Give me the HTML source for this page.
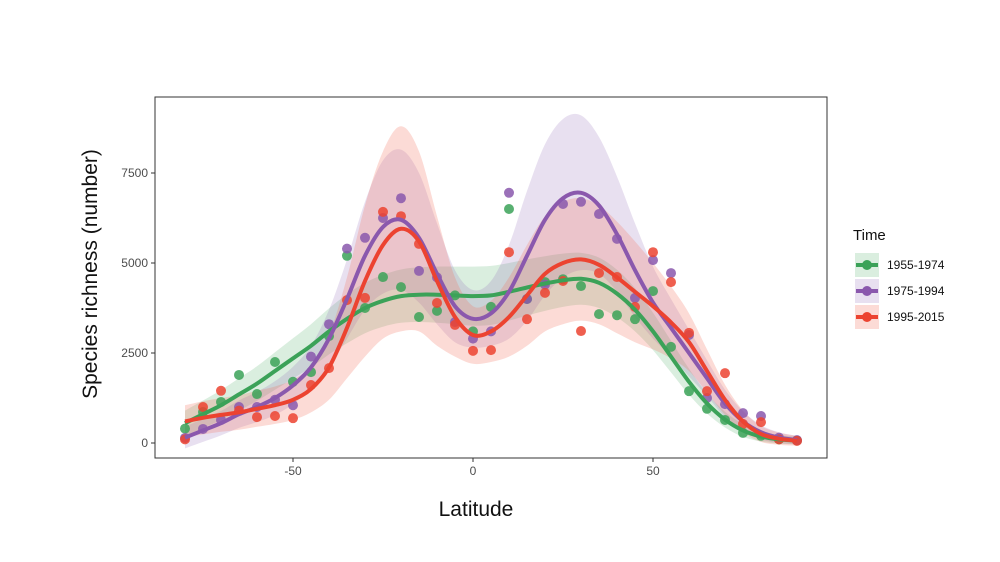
<!DOCTYPE html>
<html><head><meta charset="utf-8"><style>
body{margin:0;background:#fff;}
svg{display:block;font-family:"Liberation Sans",sans-serif;}
</style></head><body>
<svg id="chart" width="1000" height="562"></svg>
<script>
const lats=[-80,-75,-70,-65,-60,-55,-50,-45,-40,-35,-30,-25,-20,-15,-10,-5,0,5,10,15,20,25,30,35,40,45,50,55,60,65,70,75,80,85,90];
const greenPts=[400,860,1140,1890,1360,2250,1700,1970,2970,5200,3750,4610,4330,3500,3670,4100,3100,3780,6500,4000,4470,4550,4360,3580,3550,3440,4220,2670,1440,950,640,280,200,100,70];
const purplePts=[140,390,640,1000,1000,1200,1050,2400,3300,5400,5700,6250,6800,4780,4600,3360,2900,3100,6950,4000,4400,6640,6700,6360,5670,4030,5080,4720,3000,1250,1080,830,750,150,80];
const redPts=[100,1000,1450,900,720,750,690,1610,2080,3970,4030,6420,6300,5530,3890,3280,2560,2580,5300,3440,4170,4500,3110,4720,4610,3780,5300,4470,3060,1440,1940,530,580,100,60];
const greenFit=[550,800,1050,1350,1650,2000,2350,2700,3100,3450,3750,3950,4080,4120,4120,4100,4080,4100,4200,4320,4430,4520,4560,4450,4150,3700,3100,2400,1700,1100,650,350,180,100,70];
const purpleFit=[150,350,550,800,1000,1250,1600,2100,2900,4000,5200,6000,6200,5700,4700,3800,3450,3600,4200,5200,6200,6800,6950,6600,5800,4800,3900,3200,2500,1800,1100,600,300,150,80];
const redFit=[600,700,780,850,950,1050,1200,1500,2100,3200,4500,5500,5950,5600,4500,3500,3000,3100,3500,4100,4700,5000,5100,4950,4600,4200,3800,3350,2800,2000,1200,600,250,120,60];
const greenSE=[350,380,420,450,480,520,560,600,640,680,700,720,740,760,780,800,820,820,800,780,760,740,720,700,660,600,520,440,360,280,220,180,140,120,110];
const purpleSE=[300,320,340,380,420,470,520,600,800,1100,1500,1850,1950,1800,1400,1000,800,900,1300,1800,2100,2200,2150,1900,1600,1300,1000,800,650,500,380,280,200,150,120];
const redSE=[450,460,470,480,500,520,560,650,900,1400,2100,2600,2850,2500,1800,1100,800,850,1100,1400,1600,1700,1700,1650,1550,1400,1200,1000,800,600,420,300,220,170,140];
const yTicks=[0,2500,5000,7500];
const yTickLabels=["0","2500","5000","7500"];
const xTicks=[-50,0,50];
const xTickLabels=["-50","0","50"];
const legendLabels=["1955-1974","1975-1994","1995-2015"];

const NS="http://www.w3.org/2000/svg";
const svg=document.getElementById('chart');
const L=155,R=827,T=97,B=458;
const xs=v=>473+(v)*3.6;
const ys=v=>443-v*0.036;
function el(tag,attrs,parent){const e=document.createElementNS(NS,tag);for(const k in attrs)e.setAttribute(k,attrs[k]);(parent||svg).appendChild(e);return e;}
function spline(pts){let d="M"+pts[0][0]+","+pts[0][1];for(let i=0;i<pts.length-1;i++){const p0=pts[Math.max(0,i-1)],p1=pts[i],p2=pts[i+1],p3=pts[Math.min(pts.length-1,i+2)];
const c1=[p1[0]+(p2[0]-p0[0])/6,p1[1]+(p2[1]-p0[1])/6],c2=[p2[0]-(p3[0]-p1[0])/6,p2[1]-(p3[1]-p1[1])/6];
d+=" C"+c1[0].toFixed(1)+","+c1[1].toFixed(1)+" "+c2[0].toFixed(1)+","+c2[1].toFixed(1)+" "+p2[0].toFixed(1)+","+p2[1].toFixed(1);}return d;}
function splineNoM(pts){return spline(pts).replace(/^M/,"L");}

const defs=el('defs',{});const cp=el('clipPath',{id:'clip'},defs);el('rect',{x:L,y:T,width:R-L,height:B-T},cp);
const plot=el('g',{'clip-path':'url(#clip)'});



const series=[
 {name:'1955-1974',key:'green',col:'#3ba258',band:'rgba(58,164,87,0.19)',pts:greenPts,fit:greenFit,se:greenSE},
 {name:'1975-1994',key:'purple',col:'#8a58ad',band:'rgba(140,100,180,0.2)',pts:purplePts,fit:purpleFit,se:purpleSE},
 {name:'1995-2015',key:'red',col:'#ec4330',band:'rgba(245,110,90,0.25)',pts:redPts,fit:redFit,se:redSE}
];
series.forEach(s=>{
  const up=lats.map((x,i)=>[xs(x),ys(s.fit[i]+s.se[i])]);
  const lo=lats.map((x,i)=>[xs(x),ys(Math.max(s.fit[i]-s.se[i],-200))]).reverse();
  const p=el('path',{d:spline(up)+" "+splineNoM(lo)+"Z",fill:s.band},plot);
  
  
});
series.forEach(s=>{
  s.pts.forEach((v,i)=>{
    const c=el('circle',{cx:xs(lats[i]),cy:ys(v),r:5,fill:s.col,'fill-opacity':0.85},plot);
    
    
  });
});
series.forEach(s=>{
  const p=el('path',{d:spline(lats.map((x,i)=>[xs(x),ys(s.fit[i])])),fill:'none',stroke:s.col,'stroke-width':4},plot);
  
  
});
const frame=el('rect',{x:L,y:T,width:R-L,height:B-T,fill:'none',stroke:'#333','stroke-width':1});



yTicks.forEach((v,i)=>{
  el('line',{x1:L-4,x2:L,y1:ys(v),y2:ys(v),stroke:'#333'});
  const t=el('text',{x:L-7,y:ys(v)+4,'text-anchor':'end','font-size':12,fill:'#4d4d4d'});t.textContent=yTickLabels[i];
  
  
});
xTicks.forEach((v,i)=>{
  el('line',{x1:xs(v),x2:xs(v),y1:B,y2:B+4,stroke:'#333'});
  const t=el('text',{x:xs(v),y:B+17,'text-anchor':'middle','font-size':12,fill:'#4d4d4d'});t.textContent=xTickLabels[i];
  
  
});
const xt=el('text',{x:476,y:516,'text-anchor':'middle','font-size':21,fill:'#111'});xt.textContent='Latitude';


const yt=el('text',{x:97,y:274,'text-anchor':'middle','font-size':21,fill:'#111',transform:'rotate(-90 97 274)'});yt.textContent='Species richness (number)';



const lg=el('g',{});


const lt=el('text',{x:853,y:240,'font-size':15,fill:'#111'},lg);lt.textContent='Time';


series.forEach((s,i)=>{
  const cy=265+i*26;
  const g=el('g',{},lg);
  
  
  el('rect',{x:855,y:cy-12,width:24,height:24,fill:s.band},g);
  el('line',{x1:856,x2:878,y1:cy,y2:cy,stroke:s.col,'stroke-width':4},g);
  el('circle',{cx:867,cy:cy,r:5,fill:s.col},g);
  const t=el('text',{x:887,y:cy+4,'font-size':12,fill:'#111'},g);t.textContent=legendLabels[i];
});
</script>
</body></html>
